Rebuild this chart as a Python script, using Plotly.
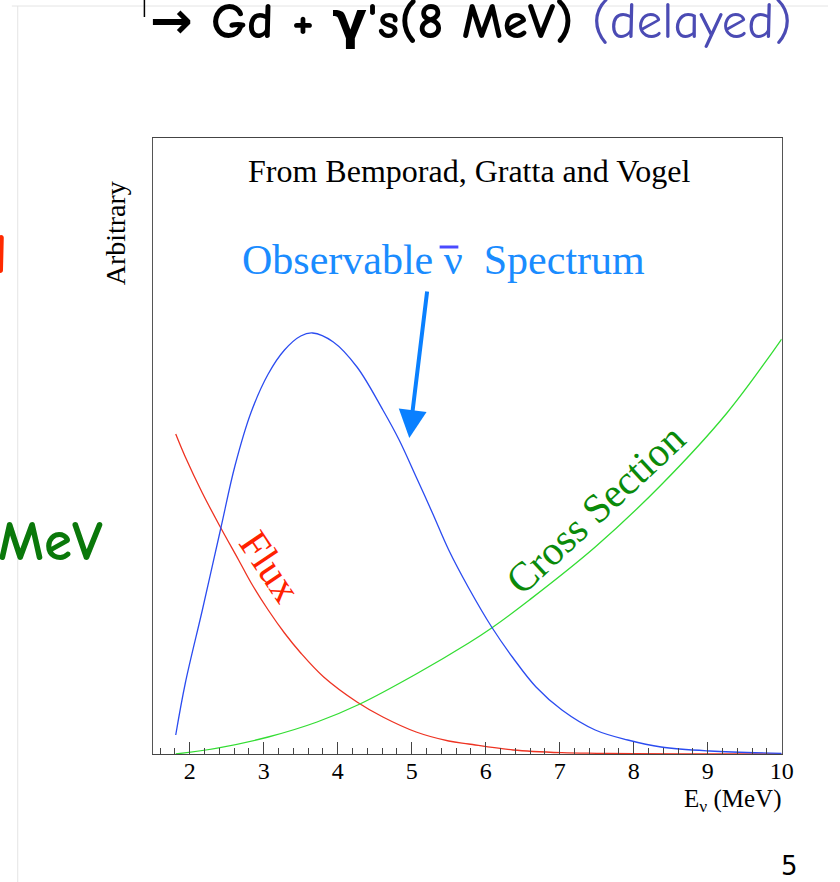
import plotly.graph_objects as go

W, H = 840, 882

# ---------------- data (arbitrary units) ----------------
E_flux = [1.81, 1.94, 2.17, 2.42, 2.66, 2.83, 3.06, 3.28, 3.50, 3.81, 4.26, 4.61,
          5.06, 5.50, 5.77, 6.37, 7.03, 7.50, 8.00, 9.00, 10.0]
flux = [3.20, 2.97, 2.61, 2.26, 1.94, 1.71, 1.44, 1.21, 1.01, 0.77, 0.52, 0.37,
        0.22, 0.13, 0.10, 0.04, 0.013, 0.007, 0.004, 0.001, 0.0005]

E_obs = [1.81, 1.94, 2.17, 2.42, 2.61, 2.83, 3.06, 3.28, 3.50, 3.66, 3.94, 4.26,
         4.61, 4.83, 5.06, 5.28, 5.50, 5.77, 6.08, 6.37, 6.68, 7.03, 7.48, 7.92,
         8.37, 9.03, 10.0]
obs = [0.19, 0.71, 1.44, 2.26, 2.88, 3.42, 3.80, 4.04, 4.18, 4.21, 4.12, 3.87,
       3.44, 3.14, 2.77, 2.41, 2.04, 1.66, 1.27, 0.96, 0.67, 0.44, 0.24, 0.14,
       0.07, 0.03, 0.007]

E_xs = [1.81, 2.39, 3.06, 3.72, 4.30, 5.06, 5.77, 6.08, 6.59, 7.48, 8.37, 9.26, 10.0]
xsec = [0.0, 0.062, 0.17, 0.32, 0.50, 0.80, 1.11, 1.26, 1.54, 2.07, 2.69, 3.41, 4.15]

x_ticks = [2, 3, 4, 5, 6, 7, 8, 9, 10]
x_ticklabels = ["2", "3", "4", "5", "6", "7", "8", "9", "10"]

# ---------------- helpers (pixel -> paper) ----------------
def px(x):
    return x / W

def py(y):
    return 1 - y / H

SERIF = "Liberation Serif, Times New Roman, serif"
COMIC = "Comic Sans MS, Comic Neue, DejaVu Sans, sans-serif"

fig = go.Figure()
fig.add_trace(go.Scatter(x=E_flux, y=flux, mode="lines", line=dict(color="#ee3322", width=1.3, shape="spline"),
                         hoverinfo="skip", showlegend=False))
fig.add_trace(go.Scatter(x=E_xs, y=xsec, mode="lines", line=dict(color="#33dd33", width=1.3, shape="spline"),
                         hoverinfo="skip", showlegend=False))
fig.add_trace(go.Scatter(x=E_obs, y=obs, mode="lines", line=dict(color="#2b4cf0", width=1.3, shape="spline"),
                         hoverinfo="skip", showlegend=False))

fig.update_layout(
    width=W, height=H, autosize=False,
    margin=dict(l=0, r=0, t=0, b=0),
    paper_bgcolor="white", plot_bgcolor="white",
    xaxis=dict(domain=[px(155), px(793)], range=[1.5, 10], tickvals=x_ticks, ticktext=x_ticklabels,
               ticks="inside", ticklen=12, tickwidth=1, tickcolor="#444",
               minor=dict(ticks="inside", ticklen=6, dtick=0.2, tick0=0, tickcolor="#444", showgrid=False),
               showline=True, linecolor="#444", linewidth=1, mirror=True,
               showgrid=False, zeroline=False, ticklabelstandoff=-5,
               tickfont=dict(family=SERIF, size=24, color="black")),
    yaxis=dict(domain=[py(754), py(138)], range=[0, 6.16], showticklabels=False, ticks="",
               showline=True, linecolor="#555", linewidth=1, mirror=True,
               showgrid=False, zeroline=False),
)

shapes = [
    # slide guide lines
    dict(type="line", xref="paper", yref="paper", x0=px(12), x1=1, y0=py(6), y1=py(6),
         line=dict(color="#e4e4e4", width=1), layer="below"),
    dict(type="line", xref="paper", yref="paper", x0=px(18), x1=px(18), y0=py(6), y1=0,
         line=dict(color="#e4e4e4", width=1), layer="below"),
    # hooked arrow stem
    dict(type="line", xref="paper", yref="paper", x0=px(146.5), x1=px(146.5), y0=py(0), y1=py(17),
         line=dict(color="black", width=1.5)),
    # bar over nu
    dict(type="line", xref="paper", yref="paper", x0=px(446), x1=px(465), y0=py(247), y1=py(247),
         line=dict(color="#4a4aff", width=3)),
]
fig.update_layout(shapes=shapes)

ann = []
# slide texts
ann.append(dict(xref="paper", yref="paper", x=px(150), y=py(22), xanchor="left", yanchor="middle",
                text="→ Gd + γ's(8 MeV)", showarrow=False,
                font=dict(family=COMIC, size=51, color="black", weight="bold")))
ann.append(dict(xref="paper", yref="paper", x=px(806), y=py(22), xanchor="right", yanchor="middle",
                text="(delayed)", showarrow=False,
                font=dict(family=COMIC, size=51, color="#4b4bb4")))
ann.append(dict(xref="paper", yref="paper", x=px(9), y=py(255), xanchor="right", yanchor="middle",
                text="d", showarrow=False,
                font=dict(family=COMIC, size=56, color="#ff2a00", weight="bold")))
ann.append(dict(xref="paper", yref="paper", x=px(-4), y=py(541), xanchor="left", yanchor="middle",
                text="MeV", showarrow=False,
                font=dict(family=COMIC, size=57, color="#0a780a", weight="bold")))
ann.append(dict(xref="paper", yref="paper", x=px(801), y=py(866), xanchor="center", yanchor="middle",
                text="5", showarrow=False,
                font=dict(family="DejaVu Sans, sans-serif", size=26, color="black")))
# chart texts
ann.append(dict(xref="paper", yref="paper", x=px(476), y=py(171), xanchor="center", yanchor="middle",
                text="From Bemporad, Gratta and Vogel", showarrow=False,
                font=dict(family=SERIF, size=32, color="black")))
ann.append(dict(xref="paper", yref="paper", x=px(243), y=py(260), xanchor="left", yanchor="middle",
                text="Observable ν\u00a0\u00a0Spectrum", showarrow=False,
                font=dict(family=SERIF, size=42, color="#1a8cff")))
ann.append(dict(xref="paper", yref="paper", x=px(117), y=py(233), xanchor="center", yanchor="middle",
                text="Arbitrary", textangle=-90, showarrow=False,
                font=dict(family=SERIF, size=28, color="black")))
ann.append(dict(xref="paper", yref="paper", x=px(794), y=py(800), xanchor="right", yanchor="middle",
                text="E<sub>ν</sub> (MeV)", showarrow=False,
                font=dict(family=SERIF, size=25, color="black")))
ann.append(dict(xref="paper", yref="paper", x=px(274), y=py(566), xanchor="center", yanchor="middle",
                text="Flux", textangle=56, showarrow=False,
                font=dict(family=SERIF, size=41, color="#ff2200")))
ann.append(dict(xref="paper", yref="paper", x=px(604), y=py(509), xanchor="center", yanchor="middle",
                text="Cross Section", textangle=-43, showarrow=False,
                font=dict(family=SERIF, size=41, color="#0a8a0a")))
# arrow pointing at the spectrum
ann.append(dict(xref="x", yref="y", x=4.967, y=3.16, ax=18, ay=-148, axref="pixel", ayref="pixel",
                text="", showarrow=True, arrowhead=2, arrowsize=1.4, arrowwidth=4,
                arrowcolor="#0a80ff"))
fig.update_layout(annotations=ann)

fig.write_html("out.html", config={"displayModeBar": False})
